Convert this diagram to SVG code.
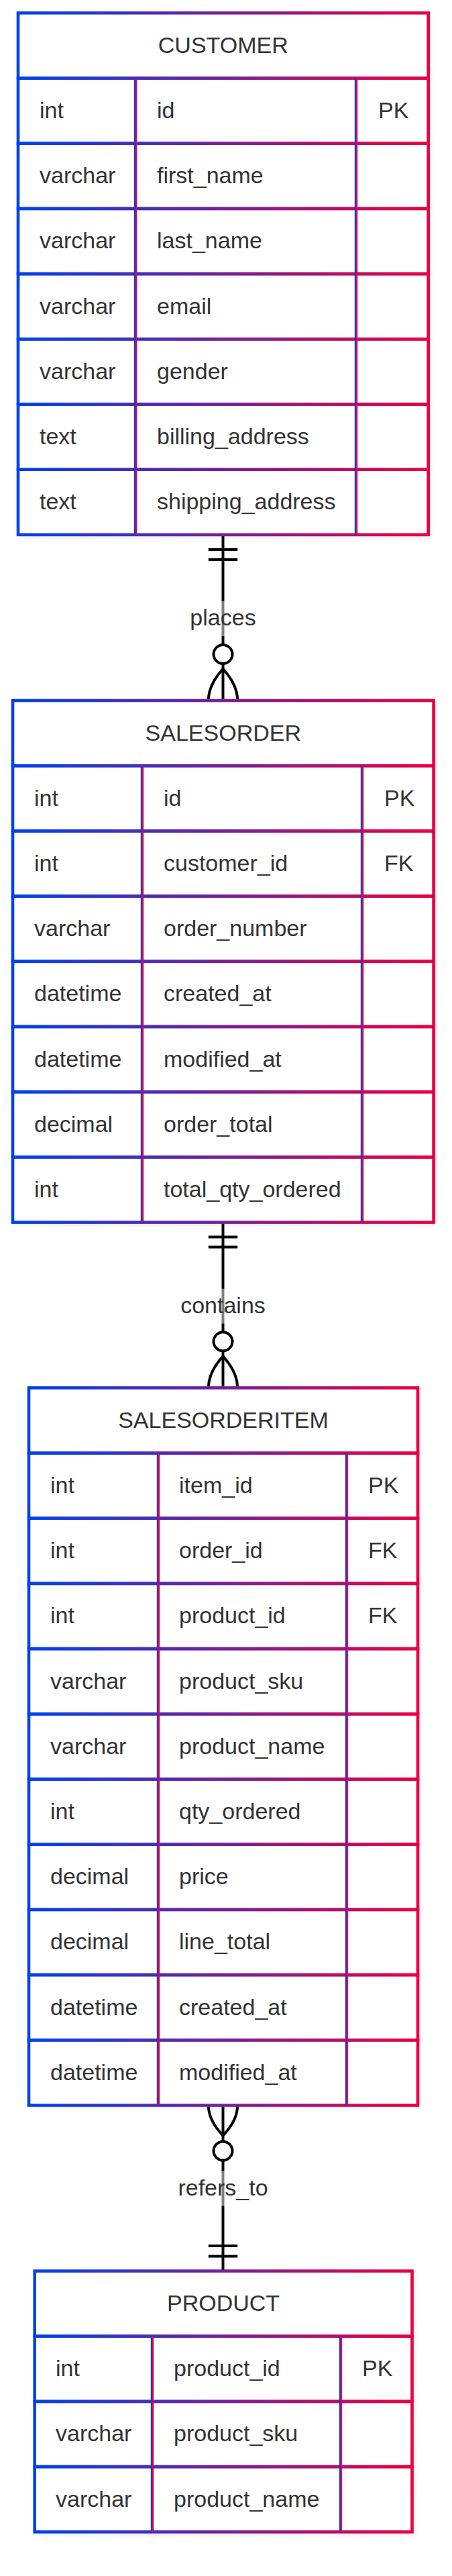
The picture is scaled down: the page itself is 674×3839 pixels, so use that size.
<svg xmlns="http://www.w3.org/2000/svg" width="674" height="3839" viewBox="0 0 674 3839">
<defs>
<linearGradient id="grad" x1="0" y1="0" x2="1" y2="0">
<stop offset="0" stop-color="#0042eb"/>
<stop offset="1" stop-color="#eb0042"/>
</linearGradient>
<filter id="shadow" x="-10%" y="-10%" width="120%" height="120%">
<feDropShadow dx="3" dy="3" stdDeviation="3" flood-color="#000" flood-opacity="0.14"/>
</filter>
<style>
.bg{fill:#fff;filter:url(#shadow);}
.row{fill:none;stroke:url(#grad);stroke-width:4.6;}
.dl{stroke:#0042eb;stroke-width:2.4;}
.dr{stroke:#eb0042;stroke-width:2.4;}
.t{font-family:"Liberation Sans",Arial,Helvetica,sans-serif;font-size:34px;fill:#333;}
.h{text-anchor:middle;}
.conn{stroke:#000;stroke-width:4;fill:none;}
.circ{stroke:#000;stroke-width:4;fill:#fff;}
.lblbg{fill:#fff;opacity:0.5;}
</style>
</defs>
<rect width="674" height="3839" fill="#fff"/>

<g id="connectors">
<g id="rel-places">
<path class="conn" d="M332.5,796.9V1044M310.8,819H354.2M310.8,834H354.2"/>
<path class="conn" d="M332.5,997Q310.8,1020.5 310.8,1044M332.5,997Q354.2,1020.5 354.2,1044"/>
<circle class="circ" cx="332.5" cy="975" r="14"/>
<rect class="lblbg" x="283" y="896" width="99" height="52"/>
<text class="t h" x="332.5" y="932">places</text>
</g>
<g id="rel-contains">
<path class="conn" d="M332.5,1821.6V2068.3M310.8,1843.6H354.2M310.8,1858.6H354.2"/>
<path class="conn" d="M332.5,2021.3Q310.8,2044.8 310.8,2068.3M332.5,2021.3Q354.2,2044.8 354.2,2068.3"/>
<circle class="circ" cx="332.5" cy="1999.3" r="14"/>
<rect class="lblbg" x="269" y="1920.6" width="127" height="52"/>
<text class="t h" x="332.5" y="1956.6">contains</text>
</g>
<g id="rel-refers_to">
<path class="conn" d="M332.5,3137.5V3384.5M310.8,3347H354.2M310.8,3362.5H354.2"/>
<path class="conn" d="M332.5,3182.5Q310.8,3160 310.8,3137.5M332.5,3182.5Q354.2,3160 354.2,3137.5"/>
<circle class="circ" cx="332.5" cy="3205.5" r="14"/>
<rect class="lblbg" x="265" y="3235.5" width="135" height="52"/>
<text class="t h" x="332.5" y="3271.5">refers_to</text>
</g>
</g>

<g id="CUSTOMER" transform="translate(0,19.3)">
<rect class="bg" x="27" y="0" width="611.7" height="777.6"/>
<rect class="row" x="27" y="0" width="611.7" height="97.2"/>
<rect class="row" x="27" y="97.2" width="611.7" height="97.2"/>
<rect class="row" x="27" y="194.4" width="611.7" height="97.2"/>
<rect class="row" x="27" y="291.6" width="611.7" height="97.2"/>
<rect class="row" x="27" y="388.8" width="611.7" height="97.2"/>
<rect class="row" x="27" y="486" width="611.7" height="97.2"/>
<rect class="row" x="27" y="583.2" width="611.7" height="97.2"/>
<rect class="row" x="27" y="680.4" width="611.7" height="97.2"/>
<path class="dl" d="M201,97.2V777.6M530,97.2V777.6"/>
<path class="dr" d="M203,97.2V777.6M532,97.2V777.6"/>
<text class="t h" x="332.8" y="59.5">CUSTOMER</text>
<text class="t" x="59" y="156.7">int</text><text class="t" x="234" y="156.7">id</text><text class="t" x="564" y="156.7">PK</text>
<text class="t" x="59" y="253.9">varchar</text><text class="t" x="234" y="253.9">first_name</text>
<text class="t" x="59" y="351.1">varchar</text><text class="t" x="234" y="351.1">last_name</text>
<text class="t" x="59" y="448.3">varchar</text><text class="t" x="234" y="448.3">email</text>
<text class="t" x="59" y="545.5">varchar</text><text class="t" x="234" y="545.5">gender</text>
<text class="t" x="59" y="642.7">text</text><text class="t" x="234" y="642.7">billing_address</text>
<text class="t" x="59" y="739.9">text</text><text class="t" x="234" y="739.9">shipping_address</text>
</g>

<g id="SALESORDER" transform="translate(0,1044)">
<rect class="bg" x="19" y="0" width="627.6" height="777.6"/>
<rect class="row" x="19" y="0" width="627.6" height="97.2"/>
<rect class="row" x="19" y="97.2" width="627.6" height="97.2"/>
<rect class="row" x="19" y="194.4" width="627.6" height="97.2"/>
<rect class="row" x="19" y="291.6" width="627.6" height="97.2"/>
<rect class="row" x="19" y="388.8" width="627.6" height="97.2"/>
<rect class="row" x="19" y="486" width="627.6" height="97.2"/>
<rect class="row" x="19" y="583.2" width="627.6" height="97.2"/>
<rect class="row" x="19" y="680.4" width="627.6" height="97.2"/>
<path class="dl" d="M211,97.2V777.6M539,97.2V777.6"/>
<path class="dr" d="M213,97.2V777.6M541,97.2V777.6"/>
<text class="t h" x="332.8" y="59.5">SALESORDER</text>
<text class="t" x="51" y="156.7">int</text><text class="t" x="244" y="156.7">id</text><text class="t" x="573" y="156.7">PK</text>
<text class="t" x="51" y="253.9">int</text><text class="t" x="244" y="253.9">customer_id</text><text class="t" x="573" y="253.9">FK</text>
<text class="t" x="51" y="351.1">varchar</text><text class="t" x="244" y="351.1">order_number</text>
<text class="t" x="51" y="448.3">datetime</text><text class="t" x="244" y="448.3">created_at</text>
<text class="t" x="51" y="545.5">datetime</text><text class="t" x="244" y="545.5">modified_at</text>
<text class="t" x="51" y="642.7">decimal</text><text class="t" x="244" y="642.7">order_total</text>
<text class="t" x="51" y="739.9">int</text><text class="t" x="244" y="739.9">total_qty_ordered</text>
</g>

<g id="SALESORDERITEM" transform="translate(0,2068.3)">
<rect class="bg" x="43" y="0" width="580" height="1069.2"/>
<rect class="row" x="43" y="0" width="580" height="97.2"/>
<rect class="row" x="43" y="97.2" width="580" height="97.2"/>
<rect class="row" x="43" y="194.4" width="580" height="97.2"/>
<rect class="row" x="43" y="291.6" width="580" height="97.2"/>
<rect class="row" x="43" y="388.8" width="580" height="97.2"/>
<rect class="row" x="43" y="486" width="580" height="97.2"/>
<rect class="row" x="43" y="583.2" width="580" height="97.2"/>
<rect class="row" x="43" y="680.4" width="580" height="97.2"/>
<rect class="row" x="43" y="777.6" width="580" height="97.2"/>
<rect class="row" x="43" y="874.8" width="580" height="97.2"/>
<rect class="row" x="43" y="972" width="580" height="97.2"/>
<path class="dl" d="M235,97.2V1069.2M516,97.2V1069.2"/>
<path class="dr" d="M237,97.2V1069.2M518,97.2V1069.2"/>
<text class="t h" x="333" y="59.5">SALESORDERITEM</text>
<text class="t" x="75" y="156.7">int</text><text class="t" x="267" y="156.7">item_id</text><text class="t" x="549" y="156.7">PK</text>
<text class="t" x="75" y="253.9">int</text><text class="t" x="267" y="253.9">order_id</text><text class="t" x="549" y="253.9">FK</text>
<text class="t" x="75" y="351.1">int</text><text class="t" x="267" y="351.1">product_id</text><text class="t" x="549" y="351.1">FK</text>
<text class="t" x="75" y="448.3">varchar</text><text class="t" x="267" y="448.3">product_sku</text>
<text class="t" x="75" y="545.5">varchar</text><text class="t" x="267" y="545.5">product_name</text>
<text class="t" x="75" y="642.7">int</text><text class="t" x="267" y="642.7">qty_ordered</text>
<text class="t" x="75" y="739.9">decimal</text><text class="t" x="267" y="739.9">price</text>
<text class="t" x="75" y="837.1">decimal</text><text class="t" x="267" y="837.1">line_total</text>
<text class="t" x="75" y="934.3">datetime</text><text class="t" x="267" y="934.3">created_at</text>
<text class="t" x="75" y="1031.5">datetime</text><text class="t" x="267" y="1031.5">modified_at</text>
</g>

<g id="PRODUCT" transform="translate(0,3384.5)">
<rect class="bg" x="51.7" y="0" width="562.8" height="388.8"/>
<rect class="row" x="51.7" y="0" width="562.8" height="97.2"/>
<rect class="row" x="51.7" y="97.2" width="562.8" height="97.2"/>
<rect class="row" x="51.7" y="194.4" width="562.8" height="97.2"/>
<rect class="row" x="51.7" y="291.6" width="562.8" height="97.2"/>
<path class="dl" d="M226,97.2V388.8M507,97.2V388.8"/>
<path class="dr" d="M228,97.2V388.8M509,97.2V388.8"/>
<text class="t h" x="333.1" y="59.5">PRODUCT</text>
<text class="t" x="83" y="156.7">int</text><text class="t" x="259" y="156.7">product_id</text><text class="t" x="540" y="156.7">PK</text>
<text class="t" x="83" y="253.9">varchar</text><text class="t" x="259" y="253.9">product_sku</text>
<text class="t" x="83" y="351.1">varchar</text><text class="t" x="259" y="351.1">product_name</text>
</g>
</svg>
